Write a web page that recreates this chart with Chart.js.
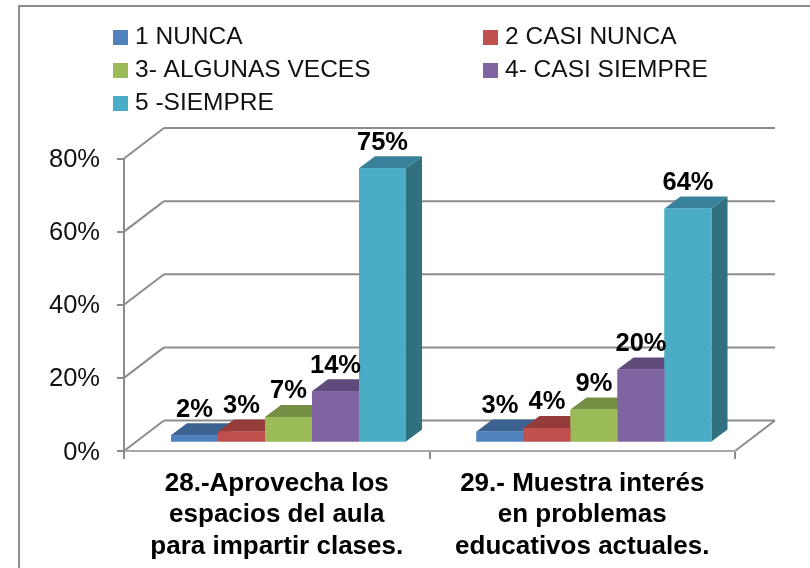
<!DOCTYPE html>
<html><head><meta charset="utf-8">
<style>html,body{margin:0;padding:0;background:#fff}#w{width:810px;height:568px;position:relative}canvas{display:block}</style>
<script src="https://cdn.jsdelivr.net/npm/chart.js@4"></script>
</head><body><div id="w"><canvas id="c" width="810" height="568"></canvas></div>
<script>
const categories = [["28.-Aprovecha los","espacios del aula","para impartir clases."],["29.- Muestra interés","en problemas","educativos actuales."]];
const seriesNames = ["1 NUNCA","2 CASI NUNCA","3- ALGUNAS VECES","4- CASI SIEMPRE","5 -SIEMPRE"];
const nunca = [2,3];
const casiNunca = [3,4];
const algunasVeces = [7,9];
const casiSiempre = [14,20];
const siempre = [75,64];
const yTicks = [0,20,40,60,80];
const frontColors = ["#4F81BD","#C0504D","#9BBB59","#8064A2","#4BACC6"];
const topColors = ["#3B6291","#953C3A","#748E43","#604A7B","#38819A"];
const sideColors = ["#325378","#7D3230","#61763A","#503E66","#31707F"];
const legendCells = [[113,37],[483,37],[113,70],[483,70],[113,103]];
const GRID="#8C8C8C";
const DEPTH={wx:40,wy:30.5,bx:16,by:12,sx:11.75,sy:8.5};

function line(ctx,x1,y1,x2,y2,color,w){ctx.strokeStyle=color;ctx.lineWidth=w;ctx.beginPath();ctx.moveTo(x1,y1);ctx.lineTo(x2,y2);ctx.stroke();}
function poly(ctx,pts,color){ctx.fillStyle=color;ctx.beginPath();pts.forEach((p,i)=>i?ctx.lineTo(p[0],p[1]):ctx.moveTo(p[0],p[1]));ctx.closePath();ctx.fill();}

const frame3d={id:"frame3d",
 beforeDraw(chart){
  const c=chart.ctx,a=chart.chartArea,y=chart.scales.y;
  c.save();
  c.strokeStyle=GRID;c.lineWidth=2;
  c.beginPath();c.moveTo(19,568);c.lineTo(19,6);c.lineTo(810,6);c.stroke();
  yTicks.forEach(v=>{
    const p=y.getPixelForValue(v);
    line(c,a.left,p,a.left+DEPTH.wx,p-DEPTH.wy,GRID,2);
    line(c,a.left+DEPTH.wx,p-DEPTH.wy,a.right+DEPTH.wx,p-DEPTH.wy,GRID,2);
  });
  const p0=y.getPixelForValue(0);
  line(c,a.right,p0,a.right+DEPTH.wx,p0-DEPTH.wy,GRID,2);
  c.font="24.5px 'Liberation Sans'";c.textBaseline="middle";c.textAlign="left";
  seriesNames.forEach((n,i)=>{
    const [x,m]=legendCells[i];
    c.fillStyle=frontColors[i];c.fillRect(x,m-7,15,15);
    c.fillStyle="#111";c.fillText(n,x+22,m);
  });
  c.restore();
 },
 beforeDatasetsDraw(chart){
  const c=chart.ctx;
  c.save();
  c.translate(DEPTH.sx,-DEPTH.sy);
  for(let k=0;k<categories.length;k++){
    chart.data.datasets.forEach((d,i)=>{
      const b=chart.getDatasetMeta(i).data[k];
      const l=b.x-b.width/2,r=b.x+b.width/2,t=b.y,bt=b.base;
      poly(c,[[r,t],[r+DEPTH.bx,t-DEPTH.by],[r+DEPTH.bx,bt-DEPTH.by],[r,bt]],sideColors[i]);
      poly(c,[[l,t],[l+DEPTH.bx,t-DEPTH.by],[r+DEPTH.bx,t-DEPTH.by],[r,t]],topColors[i]);
    });
  }
  for(let k=0;k<categories.length;k++){
   chart.data.datasets.forEach((d,i)=>{
     const b=chart.getDatasetMeta(i).data[k];
     poly(c,[[b.x-b.width/2,b.y],[b.x+b.width/2,b.y],[b.x+b.width/2,b.base],[b.x-b.width/2,b.base]],frontColors[i]);
   });
  }
 },
 afterDatasetsDraw(chart){
  const c=chart.ctx;
  chart.data.datasets.forEach((d,i)=>{
    chart.getDatasetMeta(i).data.forEach((b,k)=>{
      c.font="bold 25.5px 'Liberation Sans'";c.fillStyle="#000";c.textAlign="center";c.textBaseline="middle";
      c.fillText(d.data[k]+"%",b.x,b.y-25.5);
    });
  });
  c.restore();
 }
};

const seriesValues=[nunca,casiNunca,algunasVeces,casiSiempre,siempre];
new Chart(document.getElementById("c"),{
 type:"bar",
 data:{labels:categories,datasets:seriesNames.map((n,i)=>({label:n,data:seriesValues[i],backgroundColor:frontColors[i],borderWidth:0,clip:false}))},
 plugins:[frame3d],
 options:{
  responsive:false,animation:false,
  layout:{padding:{left:0,right:75,top:158.5,bottom:0}},
  datasets:{bar:{barPercentage:1,categoryPercentage:0.7693}},
  plugins:{legend:{display:false},tooltip:{enabled:false},title:{display:false}},
  scales:{
   x:{afterFit(s){s.height=117;},
      grid:{drawOnChartArea:false,drawTicks:true,tickLength:8,color:GRID,lineWidth:2,offset:true},
      border:{display:true,color:"#A8A8A8",width:2},
      ticks:{color:"#000",font:{family:"'Liberation Sans'",size:26,weight:"bold",lineHeight:1.21},padding:9,maxRotation:0,minRotation:0,autoSkip:false}},
   y:{min:0,max:80,afterFit(s){s.width=124;},
      afterBuildTicks(s){s.ticks=yTicks.map(v=>({value:v}));},
      grid:{drawOnChartArea:false,drawTicks:true,tickLength:7,color:GRID,lineWidth:2},
      border:{display:true,color:GRID,width:2},
      ticks:{color:"#111",font:{family:"'Liberation Sans'",size:25.5},padding:17,labelOffset:1.5,callback:v=>v+"%"}}
  }
 }
});
</script></body></html>
